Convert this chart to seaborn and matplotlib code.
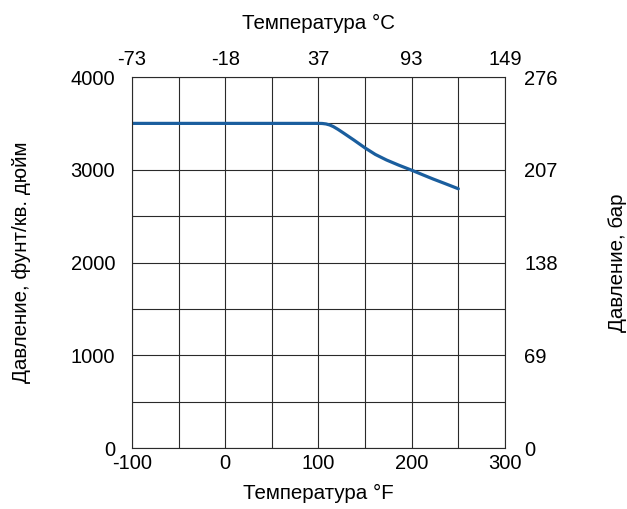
import matplotlib
matplotlib.use("Agg")
import matplotlib.pyplot as plt
import pandas as pd
import seaborn as sns

# pressure rating vs temperature
temp_f = [-100, 0, 100, 104, 108, 112, 116, 121, 127, 138, 150, 161, 173, 186, 200, 212, 223, 236, 250]
pressure_psi = [3500, 3500, 3500, 3499, 3494, 3483, 3465, 3435, 3395, 3320, 3235, 3165, 3105, 3050, 2995, 2945, 2900, 2850, 2795]

x_ticks = [-100, 0, 100, 200, 300]
x_labels_c = ["-73", "-18", "37", "93", "149"]
y_ticks = [0, 1000, 2000, 3000, 4000]
y_labels_bar = ["0", "69", "138", "207", "276"]

sns.set_style("white", {"text.color": "black", "xtick.color": "black",
                        "ytick.color": "black", "axes.labelcolor": "black"})
plt.rcParams["font.family"] = ["Liberation Sans", "DejaVu Sans"]

TICK_FS = 14.5
LABEL_FS = 14.8

df = pd.DataFrame({"temp": temp_f, "psi": pressure_psi})

fig = plt.figure(figsize=(6.27, 5.09), dpi=100)
ax = fig.add_axes([0.2105, 0.1198, 0.5949, 0.7289])

sns.lineplot(data=df, x="temp", y="psi", ax=ax, color="#1a5e9e", linewidth=2.3)

ax.set_xlim(-100, 300)
ax.set_ylim(0, 4000)
ax.set_xticks(range(-100, 301, 50))
ax.set_yticks(range(0, 4001, 500))
ax.set_xticklabels([str(v) if v in x_ticks else "" for v in range(-100, 301, 50)])
ax.set_yticklabels([str(v) if v in y_ticks else "" for v in range(0, 4001, 500)])
ax.grid(True, color="#2a2a2a", linewidth=0.8)
ax.tick_params(axis="x", length=0, pad=4, labelsize=TICK_FS)
ax.tick_params(axis="y", length=0, pad=12, labelsize=TICK_FS)
for s in ax.spines.values():
    s.set_color("#2a2a2a")
    s.set_linewidth(0.8)

ax.set_xlabel("Температура °F", fontsize=LABEL_FS)
ax.set_ylabel("Давление, фунт/кв. дюйм", fontsize=LABEL_FS)
ax.xaxis.set_label_coords(0.5, -0.098)
ax.yaxis.set_label_coords(-0.27, 0.5)

# top axis in °C
axt = ax.twiny()
axt.set_xlim(ax.get_xlim())
axt.set_xticks(x_ticks)
axt.set_xticklabels(x_labels_c)
axt.tick_params(axis="x", length=0, pad=6, labelsize=TICK_FS)
axt.set_xlabel("Температура °C", fontsize=LABEL_FS)
axt.xaxis.set_label_coords(0.5, 1.129)

# right axis in bar
axr = ax.twinx()
axr.set_ylim(ax.get_ylim())
axr.set_yticks(y_ticks)
axr.set_yticklabels(y_labels_bar)
axr.tick_params(axis="y", length=0, pad=14, labelsize=TICK_FS)
axr.set_ylabel("Давление, бар", fontsize=LABEL_FS)
axr.yaxis.set_label_coords(1.275, 0.5)

for a in (axt, axr):
    for s in a.spines.values():
        s.set_visible(False)

fig.savefig("out.png", dpi=100)
